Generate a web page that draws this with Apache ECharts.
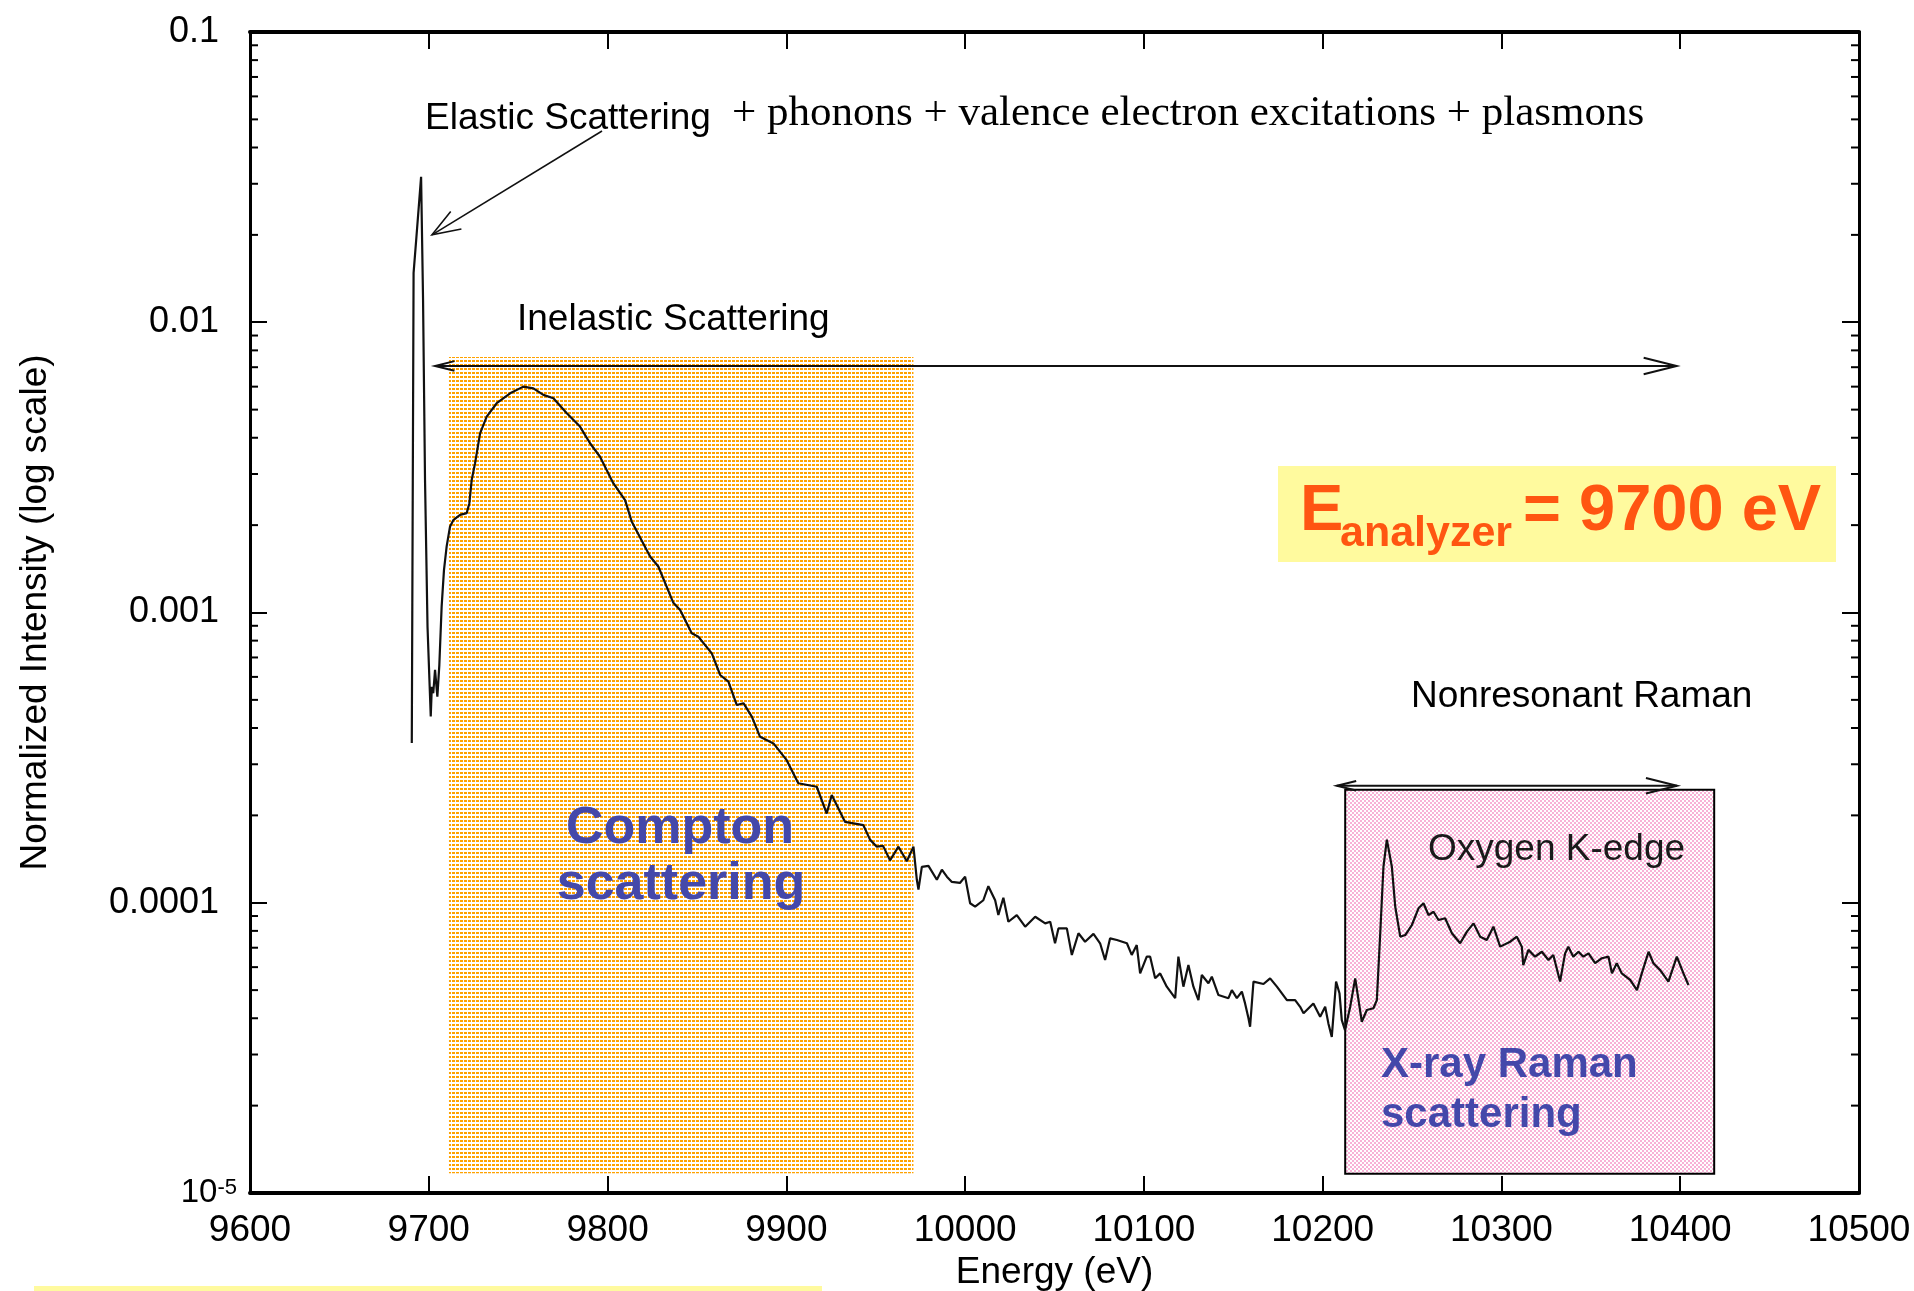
<!DOCTYPE html>
<html>
<head>
<meta charset="utf-8">
<script src="https://cdn.jsdelivr.net/npm/echarts@6/dist/echarts.min.js"></script>
<style>
  html, body { margin: 0; padding: 0; background: #ffffff; }
  #chart { width: 1914px; height: 1291px; }
</style>
</head>
<body>
<div id="chart"></div>
<script>
// Measured spectrum: photon energy (eV) and normalized intensity
const energy = [
  9690.5, 9691.5, 9693.1, 9695.7, 9696.8, 9697.9, 9699.3, 9701.1, 9701.7, 9702.5,
  9703.5, 9704.8, 9705.9, 9707.2, 9708.5, 9710.0, 9711.9, 9713.7, 9717.5, 9721.2,
  9722.7, 9724.0, 9725.9, 9728.7, 9732.4, 9738.0, 9745.5, 9752.9, 9758.5, 9764.1,
  9769.7, 9777.2, 9784.6, 9790.2, 9795.8, 9803.2, 9809.8, 9813.5, 9823.8, 9828.4,
  9836.8, 9840.6, 9847.1, 9850.8, 9858.3, 9863.0, 9867.6, 9872.3, 9876.0, 9880.7,
  9885.3, 9892.8, 9900.2, 9906.7, 9917.0, 9922.6, 9925.4, 9932.8, 9943.1, 9946.8,
  9950.6, 9954.1, 9958.0, 9962.7, 9967.4, 9971.1, 9973.0, 9973.9, 9975.8, 9979.5,
  9984.2, 9987.0, 9989.8, 9992.6, 9997.1, 10000.0, 10002.8, 10005.6, 10010.2, 10013.0,
  10016.8, 10018.6, 10021.4, 10024.2, 10028.9, 10033.6, 10039.2, 10044.8, 10047.6, 10050.3,
  10052.2, 10056.9, 10059.7, 10063.4, 10067.1, 10071.8, 10075.5, 10078.3, 10081.1, 10084.9,
  10090.5, 10093.2, 10096.0, 10097.9, 10101.6, 10103.5, 10106.3, 10109.1, 10112.8, 10117.5,
  10119.3, 10122.1, 10124.9, 10127.7, 10130.5, 10132.4, 10136.1, 10138.0, 10141.7, 10147.3,
  10149.2, 10152.0, 10154.8, 10156.6, 10158.5, 10159.4, 10161.3, 10166.9, 10170.6, 10174.4,
  10180.0, 10184.6, 10187.4, 10189.3, 10194.8, 10198.6, 10201.4, 10203.2, 10205.1, 10207.5,
  10209.4, 10210.7, 10212.5, 10215.4, 10218.2, 10221.9, 10224.7, 10228.4, 10230.3, 10232.2,
  10234.0, 10235.9, 10238.7, 10240.6, 10243.4, 10246.2, 10249.9, 10253.6, 10256.4, 10259.2,
  10262.0, 10264.8, 10268.5, 10272.3, 10276.9, 10280.7, 10284.4, 10288.1, 10291.8, 10295.5,
  10299.3, 10304.9, 10308.6, 10311.4, 10312.2, 10315.1, 10318.8, 10322.6, 10326.3, 10329.0,
  10332.8, 10335.6, 10337.4, 10340.2, 10343.1, 10345.8, 10348.7, 10352.4, 10356.2, 10359.9,
  10361.8, 10364.5, 10367.3, 10372.0, 10375.8, 10378.5, 10382.3, 10385.0, 10388.7, 10393.4,
  10398.1, 10401.8, 10404.6
];
const intensity = [
  3.55e-4, 1.48e-2, 1.97e-2, 3.17e-2, 1.19e-2, 2.86e-3, 8.91e-4, 4.38e-4, 5.55e-4, 5.27e-4,
  6.34e-4, 5.13e-4, 6.59e-4, 1.05e-3, 1.40e-3, 1.69e-3, 1.98e-3, 2.08e-3, 2.17e-3, 2.20e-3,
  2.38e-3, 2.86e-3, 3.27e-3, 4.14e-3, 4.73e-3, 5.26e-3, 5.69e-3, 6.00e-3, 5.92e-3, 5.62e-3,
  5.47e-3, 4.86e-3, 4.37e-3, 3.83e-3, 3.44e-3, 2.79e-3, 2.44e-3, 2.06e-3, 1.56e-3, 1.44e-3,
  1.08e-3, 1.02e-3, 8.48e-4, 8.25e-4, 7.23e-4, 6.09e-4, 5.78e-4, 4.80e-4, 4.87e-4, 4.38e-4,
  3.73e-4, 3.54e-4, 3.10e-4, 2.58e-4, 2.51e-4, 2.03e-4, 2.35e-4, 1.90e-4, 1.85e-4, 1.65e-4,
  1.56e-4, 1.57e-4, 1.40e-4, 1.56e-4, 1.39e-4, 1.56e-4, 1.20e-4, 1.11e-4, 1.33e-4, 1.34e-4,
  1.20e-4, 1.30e-4, 1.23e-4, 1.18e-4, 1.17e-4, 1.23e-4, 9.96e-5, 9.69e-5, 1.02e-4, 1.14e-4,
  1.02e-4, 9.07e-5, 1.04e-4, 8.60e-5, 9.07e-5, 8.27e-5, 8.95e-5, 8.49e-5, 8.60e-5, 7.25e-5,
  8.16e-5, 8.16e-5, 6.61e-5, 7.85e-5, 7.34e-5, 7.81e-5, 7.25e-5, 6.35e-5, 7.54e-5, 7.44e-5,
  7.25e-5, 6.61e-5, 7.15e-5, 5.71e-5, 6.52e-5, 6.52e-5, 5.49e-5, 5.71e-5, 5.14e-5, 4.69e-5,
  6.52e-5, 5.14e-5, 6.10e-5, 5.14e-5, 4.62e-5, 5.64e-5, 5.28e-5, 5.56e-5, 4.81e-5, 4.69e-5,
  5.00e-5, 4.69e-5, 4.94e-5, 4.50e-5, 4.00e-5, 3.74e-5, 5.35e-5, 5.25e-5, 5.49e-5, 5.14e-5,
  4.62e-5, 4.62e-5, 4.38e-5, 4.16e-5, 4.50e-5, 4.05e-5, 4.38e-5, 3.84e-5, 3.45e-5, 5.35e-5,
  4.88e-5, 3.94e-5, 3.64e-5, 4.38e-5, 5.49e-5, 3.89e-5, 4.27e-5, 4.33e-5, 4.62e-5, 7.85e-5,
  1.33e-4, 1.65e-4, 1.33e-4, 9.69e-5, 7.64e-5, 7.74e-5, 8.38e-5, 9.57e-5, 9.96e-5, 9.07e-5,
  9.31e-5, 8.72e-5, 8.84e-5, 7.85e-5, 7.25e-5, 7.95e-5, 8.49e-5, 7.64e-5, 7.44e-5, 8.27e-5,
  7.06e-5, 7.34e-5, 7.64e-5, 7.06e-5, 6.10e-5, 6.88e-5, 6.52e-5, 6.78e-5, 6.35e-5, 6.61e-5,
  5.35e-5, 6.69e-5, 7.06e-5, 6.52e-5, 6.78e-5, 6.52e-5, 6.69e-5, 6.19e-5, 6.44e-5, 6.52e-5,
  5.71e-5, 6.19e-5, 5.71e-5, 5.42e-5, 5.00e-5, 5.71e-5, 6.78e-5, 6.19e-5, 5.87e-5, 5.35e-5,
  6.52e-5, 5.71e-5, 5.21e-5
];

// Axis ranges and tick labels
const energyRange = [9600, 10500];
const intensityRange = [1e-5, 0.1];
const yTickLabels = {
  '-5': '{e|10}{s|-5}',
  '-4': '{n|0.0001}',
  '-3': '{n|0.001}',
  '-2': '{n|0.01}',
  '-1': '{n|0.1}'
};
// Minor ticks of the logarithmic axis (2..9 within each decade)
const minorTickValues = [];
[1e-5, 1e-4, 1e-3, 1e-2].forEach(function (d) {
  for (let k = 2; k <= 9; k++) minorTickValues.push(+(k * d).toPrecision(3));
});

// Shaded energy regions: [E start, I top, E end, I bottom]
const regionNames = ['Compton', 'X-ray Raman'];
const regionBounds = [
  [9711.3, 7.59e-3, 9971.1, 1.17e-5],
  [10212.6, 2.45e-4, 10419.0, 1.165e-5]
];
// Annotation arrows: [E1, I1, E2, I2]
const arrowNames = ['inelastic', 'nonresonant', 'elastic'];
const arrowEnds = [
  [9703.5, 7.07e-3, 10398.0, 7.07e-3],
  [10207.9, 2.53e-4, 10398.2, 2.53e-4],
  [9796.9, 0.0456, 9701.8, 0.0200]
];

const SANS = '"Liberation Sans", Arial, Helvetica, sans-serif';
const SERIF = '"Liberation Serif", "Times New Roman", serif';

function makePattern(size, fg, cells) {
  const c = document.createElement('canvas');
  c.width = size; c.height = size;
  const g = c.getContext('2d');
  g.fillStyle = '#ffffff';
  g.fillRect(0, 0, size, size);
  g.fillStyle = fg;
  cells.forEach(function (r) { g.fillRect(r[0], r[1], r[2], r[3]); });
  return { image: c, repeat: 'repeat' };
}
const orangeDots = makePattern(4, '#FFA200', [[0, 0, 3, 2]]);
const pinkChecks = makePattern(4, '#F8B2D6', [[0, 0, 2, 2], [2, 2, 2, 2]]);
const regionStyles = [
  { fill: orangeDots, stroke: null, lineWidth: 0 },
  { fill: pinkChecks, stroke: '#000000', lineWidth: 2 }
];
// Arrowhead lengths (px) at the start and end of each arrow, and half-angle (deg)
const arrowHeads = [
  { start: 20, end: 34, angle: 14, width: 2 },
  { start: 20, end: 32, angle: 14, width: 2 },
  { start: 0, end: 30, angle: 20, width: 1.6 }
];

function openHead(tip, from, len, angleDeg) {
  const dx = from[0] - tip[0], dy = from[1] - tip[1];
  const L = Math.sqrt(dx * dx + dy * dy) || 1;
  const ux = dx / L, uy = dy / L;
  const a = angleDeg * Math.PI / 180;
  const c = Math.cos(a), s = Math.sin(a);
  const p1 = [tip[0] + len * (ux * c - uy * s), tip[1] + len * (ux * s + uy * c)];
  const p2 = [tip[0] + len * (ux * c + uy * s), tip[1] + len * (-ux * s + uy * c)];
  return [p1, tip, p2];
}

const chart = echarts.init(document.getElementById('chart'), null, { renderer: 'canvas' });

const axisFont = { fontFamily: SANS, color: '#000000' };

const option = {
  animation: false,
  backgroundColor: '#ffffff',
  grid: { left: 250, right: 55, top: 32, bottom: 98, containLabel: false, outerBoundsMode: 'none' },
  xAxis: [
    {
      type: 'value', position: 'bottom',
      min: energyRange[0], max: energyRange[1], interval: 100,
      name: 'Energy (eV)', nameLocation: 'middle', nameGap: 56,
      nameTextStyle: Object.assign({ fontSize: 37 }, axisFont),
      axisLine: { show: true, onZero: false, lineStyle: { color: '#000', width: 4 } },
      axisTick: { show: true, inside: true, length: 17, lineStyle: { color: '#000', width: 2 } },
      axisLabel: Object.assign({
        fontSize: 37, margin: 19, showMinLabel: true, showMaxLabel: true, hideOverlap: false,
        formatter: function (v) { return String(Math.round(v)); }
      }, axisFont),
      splitLine: { show: false }
    },
    {
      type: 'value', position: 'top',
      min: energyRange[0], max: energyRange[1], interval: 100,
      axisLine: { show: true, onZero: false, lineStyle: { color: '#000', width: 4 } },
      axisTick: { show: true, inside: true, length: 17, lineStyle: { color: '#000', width: 2 } },
      axisLabel: { show: false },
      splitLine: { show: false }
    }
  ],
  yAxis: [
    {
      type: 'log', logBase: 10, position: 'left',
      min: intensityRange[0], max: intensityRange[1], splitNumber: 4,
      name: 'Normalized Intensity (log scale)', nameLocation: 'middle', nameGap: 196, nameRotate: 90,
      nameTextStyle: Object.assign({ fontSize: 37 }, axisFont),
      axisLine: { show: true, onZero: false, lineStyle: { color: '#000', width: 3 } },
      axisTick: { show: true, inside: true, length: 17, lineStyle: { color: '#000', width: 2 } },
      axisLabel: {
        margin: 13, showMinLabel: true, showMaxLabel: true, hideOverlap: false,
        fontFamily: SANS, color: '#000',
        formatter: function (v) { return yTickLabels[String(Math.round(Math.log10(v)))] || ''; },
        rich: {
          n: { fontSize: 36, fontFamily: SANS, color: '#000', padding: [0, 18, 0, 0] },
          e: { fontSize: 33, fontFamily: SANS, color: '#000', verticalAlign: 'bottom' },
          s: { fontSize: 22, fontFamily: SANS, color: '#000', verticalAlign: 'top' }
        }
      },
      splitLine: { show: false }
    },
    {
      type: 'log', logBase: 10, position: 'right',
      min: intensityRange[0], max: intensityRange[1], splitNumber: 4,
      axisLine: { show: true, onZero: false, lineStyle: { color: '#000', width: 3 } },
      axisTick: { show: true, inside: true, length: 17, lineStyle: { color: '#000', width: 2 } },
      axisLabel: { show: false },
      splitLine: { show: false }
    }
  ],
  series: [
    {
      name: 'regions', type: 'custom', coordinateSystem: 'cartesian2d',
      xAxisIndex: 0, yAxisIndex: 0, silent: true, z: 1,
      encode: { x: [0, 2], y: [1, 3] },
      data: regionBounds.map(function (b, i) { return { name: regionNames[i], value: b }; }),
      renderItem: function (params, api) {
        const p1 = api.coord([api.value(0), api.value(1)]);
        const p2 = api.coord([api.value(2), api.value(3)]);
        const st = regionStyles[params.dataIndex];
        return {
          type: 'rect',
          shape: { x: p1[0], y: p1[1], width: p2[0] - p1[0], height: p2[1] - p1[1] },
          style: { fill: st.fill, stroke: st.stroke, lineWidth: st.lineWidth }
        };
      }
    },
    {
      name: 'spectrum', type: 'line', xAxisIndex: 0, yAxisIndex: 0, z: 3,
      showSymbol: false, symbol: 'none', smooth: false,
      lineStyle: { color: '#111111', width: 2.2 },
      data: energy.map(function (e, i) { return [e, intensity[i]]; })
    },
    {
      name: 'arrows', type: 'custom', coordinateSystem: 'cartesian2d',
      xAxisIndex: 0, yAxisIndex: 0, silent: true, z: 4, clip: false,
      encode: { x: [0, 2], y: [1, 3] },
      data: arrowEnds.map(function (a, i) { return { name: arrowNames[i], value: a }; }),
      renderItem: function (params, api) {
        const p1 = api.coord([api.value(0), api.value(1)]);
        const p2 = api.coord([api.value(2), api.value(3)]);
        const h = arrowHeads[params.dataIndex];
        const stroke = { stroke: '#111111', lineWidth: h.width, fill: null };
        const children = [{ type: 'line', shape: { x1: p1[0], y1: p1[1], x2: p2[0], y2: p2[1] }, style: stroke }];
        if (h.end) children.push({ type: 'polyline', shape: { points: openHead(p2, p1, h.end, h.angle) }, style: stroke });
        if (h.start) children.push({ type: 'polyline', shape: { points: openHead(p1, p2, h.start, h.angle) }, style: stroke });
        return { type: 'group', children: children };
      }
    },
    {
      name: 'minorTicks', type: 'custom', coordinateSystem: 'cartesian2d',
      xAxisIndex: 0, yAxisIndex: 0, silent: true, z: 6, clip: false,
      data: minorTickValues.map(function (v) { return [energyRange[0], v]; }),
      renderItem: function (params, api) {
        const y = api.coord([api.value(0), api.value(1)])[1];
        const cs = params.coordSys;
        const st = { stroke: '#000000', lineWidth: 2 };
        return {
          type: 'group',
          children: [
            { type: 'line', shape: { x1: cs.x, y1: y, x2: cs.x + 8, y2: y }, style: st },
            { type: 'line', shape: { x1: cs.x + cs.width - 8, y1: y, x2: cs.x + cs.width, y2: y }, style: st }
          ]
        };
      }
    }
  ],
  graphic: [
    { type: 'text', x: 425, y: 119, z: 20, style: { text: 'Elastic Scattering', font: '37px ' + SANS, fill: '#000', align: 'left', verticalAlign: 'middle' } },
    { type: 'text', x: 732, y: 114, z: 20, style: { text: '+ phonons + valence electron excitations + plasmons', font: '43px ' + SERIF, fill: '#000', align: 'left', verticalAlign: 'middle' } },
    { type: 'text', x: 517, y: 320, z: 20, style: { text: 'Inelastic Scattering', font: '37px ' + SANS, fill: '#000', align: 'left', verticalAlign: 'middle' } },
    { type: 'text', x: 1411, y: 697, z: 20, style: { text: 'Nonresonant Raman', font: '37px ' + SANS, fill: '#000', align: 'left', verticalAlign: 'middle' } },
    { type: 'text', x: 1428, y: 850, z: 20, style: { text: 'Oxygen K-edge', font: '37px ' + SANS, fill: '#1a1a1a', align: 'left', verticalAlign: 'middle' } },
    { type: 'text', x: 680, y: 829, z: 20, style: { text: 'Compton', font: 'bold 52px ' + SANS, fill: '#4448AA', align: 'center', verticalAlign: 'middle' } },
    { type: 'text', x: 681, y: 885, z: 20, style: { text: 'scattering', font: 'bold 52px ' + SANS, fill: '#4448AA', align: 'center', verticalAlign: 'middle' } },
    { type: 'text', x: 1381, y: 1065, z: 20, style: { text: 'X-ray Raman', font: 'bold 42px ' + SANS, fill: '#4448AA', align: 'left', verticalAlign: 'middle' } },
    { type: 'text', x: 1381, y: 1115, z: 20, style: { text: 'scattering', font: 'bold 42px ' + SANS, fill: '#4448AA', align: 'left', verticalAlign: 'middle' } },
    { type: 'rect', x: 1278, y: 466, z: 18, shape: { width: 558, height: 96 }, style: { fill: '#FFFA9E' } },
    { type: 'text', x: 1300, y: 512, z: 20, style: { text: 'E', font: 'bold 65px ' + SANS, fill: '#FF5511', align: 'left', verticalAlign: 'middle' } },
    { type: 'text', x: 1340, y: 534, z: 20, style: { text: 'analyzer', font: 'bold 43px ' + SANS, fill: '#FF5511', align: 'left', verticalAlign: 'middle' } },
    { type: 'text', x: 1523, y: 512, z: 20, style: { text: '= 9700 eV', font: 'bold 65px ' + SANS, fill: '#FF5511', align: 'left', verticalAlign: 'middle' } },
    { type: 'rect', x: 34, y: 1286, z: 18, shape: { width: 788, height: 5 }, style: { fill: '#FFFA9E' } }
  ]
};

chart.setOption(option);
</script>
</body>
</html>
